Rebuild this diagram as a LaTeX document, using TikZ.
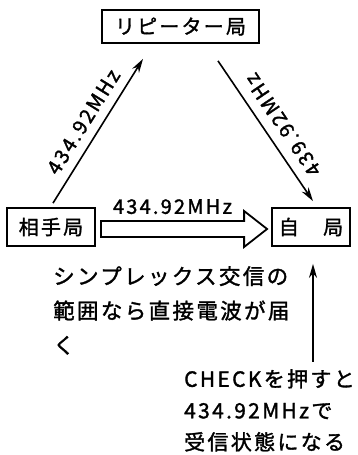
\documentclass[tikz,border=0pt]{standalone}
\usepackage{fontspec}
\setmainfont{Noto Sans CJK JP}[LetterSpace=11, FakeBold=1.5]
\usetikzlibrary{arrows.meta, positioning, calc}

\begin{document}
\begin{tikzpicture}[
    x=1pt, y=1pt,
    box/.style={rectangle, draw, line width=1.8pt, inner sep=2pt, font=\fontsize{20pt}{24pt}\selectfont},
    note/.style={align=left, inner sep=0pt, anchor=north west},
    freq/.style={inner sep=1pt, font=\fontsize{20pt}{24pt}\selectfont},
    arrow/.style={line width=1.6pt, ->, >={Stealth[length=14pt, width=8pt]}},
    hollow/.style={line width=1.8pt, fill=white, line join=miter}
]
    \useasboundingbox (0,0) rectangle (358,455);

    % stations
    \node [box, minimum width=157pt, minimum height=33pt] (repeater) at (180.5,428.5) {リピーター局};
    \node [box, minimum width=88pt, minimum height=38pt] (partner) at (51,228) {相手局};
    \node [box, minimum width=78pt, minimum height=38pt] (self) at (311,228) {自　局};

    % via the repeater
    \draw [arrow] ([xshift=2pt, yshift=4pt]partner.north) -- node [freq, sloped, above=8pt] (upfreq) {434.92MHz} ([xshift=-37.5pt, yshift=-15pt]repeater.south);
    \draw [arrow] ([xshift=37.5pt, yshift=-17pt]repeater.south) -- node [freq, pos=0.5, xshift=17.5pt, yshift=6pt, rotate=124] (downfreq) {439.92MHz} ([xshift=2pt, yshift=6pt]self.north);

    % simplex, direct
    \coordinate (hstart) at ([xshift=5pt, yshift=-2pt]partner.east);
    \coordinate (htip) at ([xshift=-4pt, yshift=-2pt]self.west);
    \draw [hollow] ([yshift=8pt]hstart) -- node [freq, above=5pt] (directfreq) {434.92MHz} ([xshift=-23pt, yshift=8pt]htip)
        -- ([xshift=-23pt, yshift=18pt]htip) -- (htip) -- ([xshift=-23pt, yshift=-18pt]htip)
        -- ([xshift=-23pt, yshift=-8pt]htip) -- ([yshift=-8pt]hstart) -- cycle;

    % notes
    \node [note, font=\fontsize{21.5pt}{34.5pt}\selectfont] (simplex) at (53,189) {シンプレックス交信の\\範囲なら直接電波が届\\く};
    \node [note, font=\fontsize{21pt}{31.5pt}\selectfont] (check) at (184,86) {CHECKを押すと\\434.92MHzで\\受信状態になる};

    \draw [arrow] ($(check.north -| self.south)+(2,7)$) -- ([xshift=2pt, yshift=-17pt]self.south);
\end{tikzpicture}
\end{document}
